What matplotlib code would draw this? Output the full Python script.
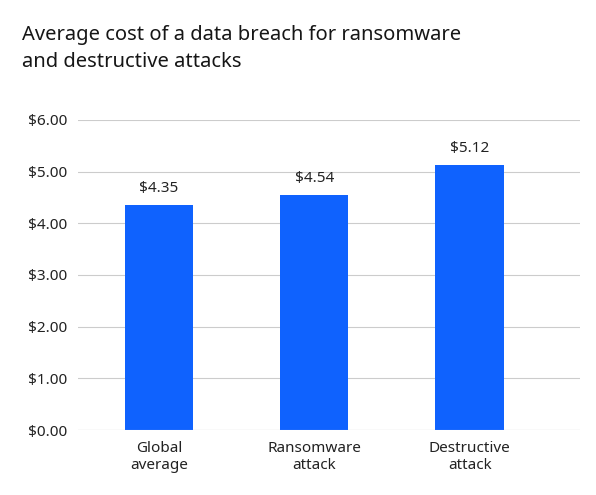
import matplotlib.pyplot as plt

plt.rcParams['font.family'] = ['Noto Sans', 'DejaVu Sans']

categories = ["Global\naverage", "Ransomware\nattack", "Destructive\nattack"]
costs = [4.35, 4.54, 5.12]
yticks = [0, 1, 2, 3, 4, 5, 6]

fig = plt.figure(figsize=(5.96, 4.95), dpi=100)
ax = fig.add_axes([0.131, 0.131, 0.842, 0.627])

x = list(range(len(categories)))
ax.bar(x, costs, width=0.44, color="#0f62fe", zorder=3)

for xi, v in zip(x, costs):
    ax.text(xi, v + 0.18, f"${v:.2f}", ha="center", va="bottom",
            fontsize=11, color="#222222")

ax.set_xlim(-0.52, 2.71)
ax.set_ylim(0, 6)
ax.set_yticks(yticks)
ax.set_yticklabels([f"${t:.2f}" for t in yticks], fontsize=11, color="#222222")
ax.set_xticks(x)
ax.set_xticklabels(categories, fontsize=11, color="#222222")
ax.tick_params(length=0, pad=8)
ax.grid(axis="y", color="#cccccc", linewidth=0.8, zorder=0)
for s in ax.spines.values():
    s.set_visible(False)
ax.axhline(0, color="#cccccc", linewidth=0.8, zorder=4)

fig.text(0.037, 0.93, "Average cost of a data breach for ransomware",
         fontsize=14.5, fontweight="bold", color="#161616", va="center")
fig.text(0.037, 0.875, "and destructive attacks",
         fontsize=14.5, fontweight="bold", color="#161616", va="center")

fig.savefig("out.png", dpi=100)
